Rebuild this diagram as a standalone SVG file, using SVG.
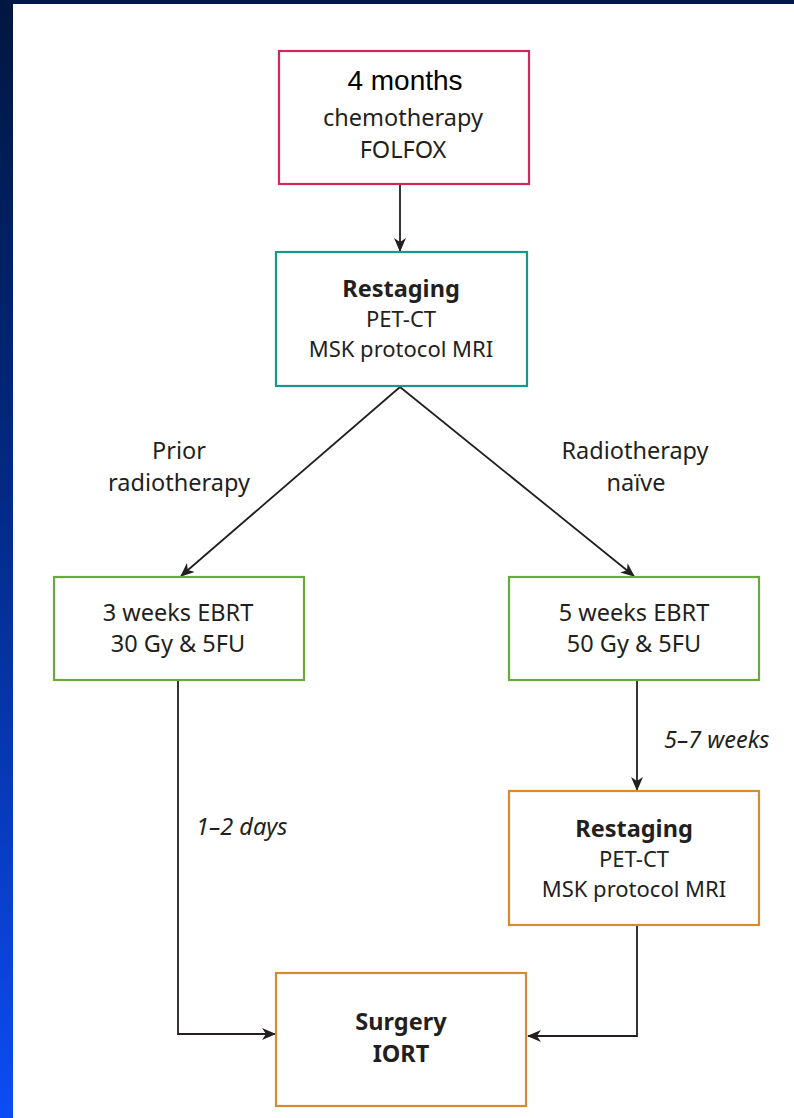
<svg xmlns="http://www.w3.org/2000/svg" width="794" height="1118" viewBox="0 0 794 1118">
<defs>
<linearGradient id="side" x1="0" y1="0" x2="0" y2="1">
<stop offset="0" stop-color="#00173f"/>
<stop offset="0.45" stop-color="#022a86"/>
<stop offset="1" stop-color="#0c4cf4"/>
</linearGradient>
<marker id="arr" viewBox="0 0 14 12" refX="13" refY="6" markerWidth="14" markerHeight="12" markerUnits="userSpaceOnUse" orient="auto">
<path d="M0,0 L14,6 L0,12 L4,6 Z" fill="#231f20"/>
</marker>
<style>
.box{fill:#fff;stroke-width:2.2}
.t{font-family:"Noto Sans","Open Sans",sans-serif;font-size:23.5px;fill:#231f20;text-anchor:middle}
.s{font-size:22px}
.b{font-weight:bold}
.i{font-style:italic;text-anchor:start}
.c{fill:none;stroke:#231f20;stroke-width:1.8}
</style>
</defs>
<rect x="0" y="0" width="794" height="1118" fill="#ffffff"/>
<rect x="0" y="0" width="794" height="4" fill="#001845"/>
<rect x="0" y="0" width="13" height="1118" fill="url(#side)"/>

<g id="connectors">
<line class="c" x1="400" y1="185" x2="400" y2="251" marker-end="url(#arr)"/>
<line class="c" x1="400" y1="387" x2="181" y2="576" marker-end="url(#arr)"/>
<line class="c" x1="400" y1="387" x2="634" y2="576" marker-end="url(#arr)"/>
<line class="c" x1="637" y1="681" x2="637" y2="790" marker-end="url(#arr)"/>
<polyline class="c" points="178,681 178,1034 275,1034" marker-end="url(#arr)"/>
<polyline class="c" points="637,926 637,1036 528,1036" marker-end="url(#arr)"/>
<text class="t" x="179" y="459">Prior</text>
<text class="t" x="179" y="491">radiotherapy</text>
<text class="t" x="635" y="459">Radiotherapy</text>
<text class="t" x="636" y="491">naïve</text>
<text class="t i" x="664" y="748">5–7 weeks</text>
<text class="t i" x="196" y="835">1–2 days</text>
</g>

<g id="chemo">
<rect class="box" x="279" y="51" width="250" height="133" stroke="#d1285c"/>
<text x="405" y="90" font-family="Liberation Sans, Arial, sans-serif" font-size="28" fill="#000" text-anchor="middle">4 months</text>
<text class="t" x="403" y="126">chemotherapy</text>
<text class="t" x="403" y="158">FOLFOX</text>
</g>

<g id="restaging1">
<rect class="box" x="276" y="252" width="251" height="134" stroke="#15998b"/>
<text class="t b" x="401" y="297">Restaging</text>
<text class="t s" x="401" y="327">PET-CT</text>
<text class="t s" x="401" y="357">MSK protocol MRI</text>
</g>

<g id="ebrt3">
<rect class="box" x="54" y="577" width="250" height="103" stroke="#68ab3c"/>
<text class="t" x="178" y="621">3 weeks EBRT</text>
<text class="t" x="178" y="652">30 Gy &amp; 5FU</text>
</g>

<g id="ebrt5">
<rect class="box" x="509" y="577" width="250" height="103" stroke="#68ab3c"/>
<text class="t" x="634" y="621">5 weeks EBRT</text>
<text class="t" x="634" y="652">50 Gy &amp; 5FU</text>
</g>

<g id="restaging2">
<rect class="box" x="509" y="791" width="250" height="134" stroke="#d98a2c"/>
<text class="t b" x="634" y="837">Restaging</text>
<text class="t s" x="634" y="867">PET-CT</text>
<text class="t s" x="634" y="897">MSK protocol MRI</text>
</g>

<g id="surgery">
<rect class="box" x="276" y="973" width="250" height="133" stroke="#d98a2c"/>
<text class="t b" x="401" y="1030">Surgery</text>
<text class="t b" x="401" y="1062">IORT</text>
</g>
</svg>
